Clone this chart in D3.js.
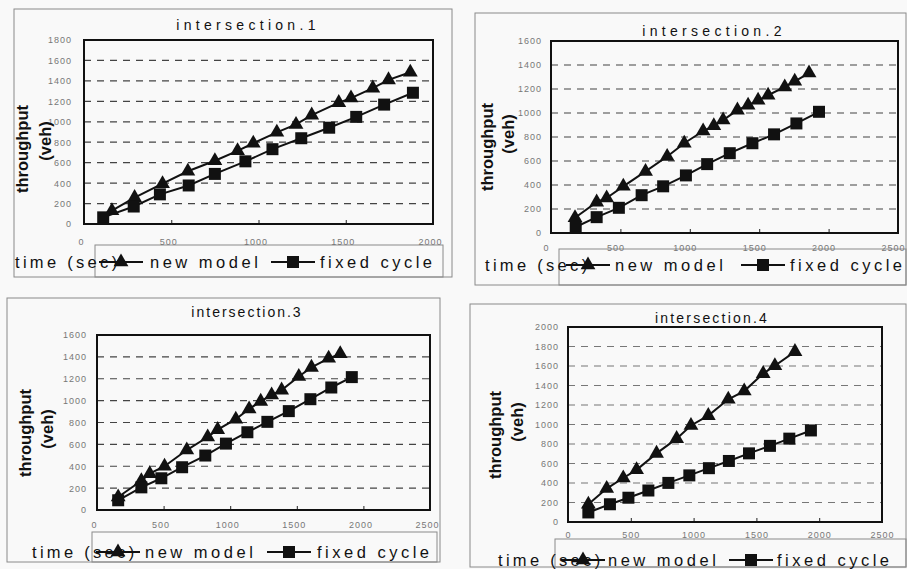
<!DOCTYPE html>
<html>
<head>
<meta charset="utf-8">
<script src="https://cdn.jsdelivr.net/npm/d3@7"></script>
<style>
  html, body { margin: 0; padding: 0; background: #f9f9f9; }
  svg { display: block; font-family: "Liberation Sans", Arial, sans-serif; }
</style>
</head>
<body>
<svg id="chart" width="907" height="569"></svg>
<script>
// Cumulative throughput (veh) against simulation time (sec) for four intersections.

// intersection.1
const int1NewTime   = [160, 290, 450, 595, 750, 880, 970, 1105, 1215, 1305, 1460, 1530, 1655, 1745, 1870];
const int1NewVeh    = [130, 258, 394, 516, 619, 716, 790, 897, 974, 1065, 1187, 1232, 1329, 1410, 1484];
const int1FixedTime = [110, 285, 435, 600, 750, 925, 1080, 1245, 1405, 1560, 1720, 1885];
const int1FixedVeh  = [65, 171, 290, 377, 490, 613, 732, 839, 942, 1048, 1168, 1284];

// intersection.2
const int2NewTime   = [173, 329, 401, 521, 681, 837, 960, 1096, 1173, 1240, 1343, 1420, 1492, 1564, 1684, 1756, 1859];
const int2NewVeh    = [127, 257, 292, 389, 513, 637, 748, 850, 894, 941, 1024, 1065, 1106, 1148, 1217, 1264, 1333];
const int2FixedTime = [178, 329, 489, 653, 808, 972, 1125, 1288, 1451, 1607, 1768, 1931];
const int2FixedVeh  = [50, 132, 210, 315, 389, 480, 574, 665, 748, 822, 913, 1010];

// intersection.3
const int3NewTime   = [159, 333, 396, 507, 674, 831, 906, 1042, 1142, 1229, 1311, 1386, 1515, 1610, 1739, 1826];
const int3NewVeh    = [119, 267, 332, 400, 548, 667, 735, 830, 924, 993, 1052, 1096, 1221, 1304, 1387, 1428];
const int3FixedTime = [159, 333, 483, 639, 813, 968, 1129, 1279, 1440, 1602, 1759, 1913];
const int3FixedVeh  = [89, 207, 290, 391, 498, 607, 711, 806, 904, 1013, 1120, 1215];

// intersection.4
const int4NewTime   = [162, 308, 440, 546, 705, 865, 979, 1117, 1276, 1403, 1554, 1647, 1807];
const int4NewVeh    = [182, 343, 451, 535, 704, 855, 990, 1091, 1259, 1343, 1522, 1603, 1747];
const int4FixedTime = [162, 334, 481, 640, 799, 966, 1122, 1281, 1441, 1608, 1762, 1934];
const int4FixedVeh  = [98, 182, 249, 323, 401, 478, 552, 626, 704, 781, 855, 939];

const titles      = ["intersection.1", "intersection.2", "intersection.3", "intersection.4"];
const seriesNames = ["new model", "fixed cycle"];
const xAxisMax    = [2000, 2500, 2500, 2500];
const yAxisMax    = [1800, 1600, 1600, 2000];
const xTickStep   = 500;
const yTickStep   = 200;
const xTitle      = "time (sec)";
const yTitle      = ["throughput", "(veh)"];

const panelData = [
  [[int1NewTime, int1NewVeh], [int1FixedTime, int1FixedVeh]],
  [[int2NewTime, int2NewVeh], [int2FixedTime, int2FixedVeh]],
  [[int3NewTime, int3NewVeh], [int3FixedTime, int3FixedVeh]],
  [[int4NewTime, int4NewVeh], [int4FixedTime, int4FixedVeh]]
];

// Page placement of each small chart
const layout = [
  { outer: [14, 9, 452, 277],   plot: [84, 40, 433, 224],   legendBox: [95, 245, 443, 277],
    title: [248, 25, 4.3],  yTitlePos: [22, 149, 45, 141],  yLabelGap: 12, xLabelDy: 18, xLabelShift: -3,
    timeAt: [15, 262], leg: { tri: 121, sq: 293, t1: 150, t2: 320, y: 262 } },
  { outer: [475, 13, 906, 285], plot: [551, 41, 898, 233],  legendBox: [559, 249, 906, 285],
    title: [714, 31, 4.3],  yTitlePos: [487, 147, 508, 134], yLabelGap: 9, xLabelDy: 15, xLabelShift: -5,
    timeAt: [485, 265], leg: { tri: 588, sq: 763, t1: 615, t2: 790, y: 265 } },
  { outer: [7, 298, 440, 562],  plot: [97, 335, 430, 510],  legendBox: [92, 532, 437, 562],
    title: [247, 312, 2.0], yTitlePos: [25, 433, 47, 429],   yLabelGap: 10, xLabelDy: 15, xLabelShift: -3,
    timeAt: [32, 552], leg: { tri: 118, sq: 289, t1: 145, t2: 317, y: 552 } },
  { outer: [470, 304, 906, 567], plot: [568, 327, 882, 522], legendBox: [555, 539, 906, 567],
    title: [712, 318, 2.2], yTitlePos: [495, 435, 517, 422], yLabelGap: 9, xLabelDy: 13, xLabelShift: 0,
    timeAt: [498, 560], leg: { tri: 583, sq: 751, t1: 608, t2: 777, y: 560 } }
];

const svg = d3.select("#chart");
const triangle = d3.symbol().type(d3.symbolTriangle).size(95);
const square   = d3.symbol().type(d3.symbolSquare).size(144);
const markers  = [triangle, square];
const tickFmt  = d3.format("d");

layout.forEach((L, i) => {
  const g = svg.append("g");
  const [px0, py1, px1, py0] = L.plot;

  const x = d3.scaleLinear().domain([0, xAxisMax[i]]).range([px0, px1]);
  const y = d3.scaleLinear().domain([0, yAxisMax[i]]).range([py0, py1]);

  // chart border
  g.append("rect")
    .attr("x", L.outer[0]).attr("y", L.outer[1])
    .attr("width", L.outer[2] - L.outer[0]).attr("height", L.outer[3] - L.outer[1])
    .attr("fill", "none").attr("stroke", "#8a8a8a").attr("stroke-width", 1);

  // legend box
  g.append("rect")
    .attr("x", L.legendBox[0]).attr("y", L.legendBox[1])
    .attr("width", L.legendBox[2] - L.legendBox[0]).attr("height", L.legendBox[3] - L.legendBox[1])
    .attr("fill", "none").attr("stroke", "#8a8a8a").attr("stroke-width", 1);

  // dashed gridlines
  const yTicks = d3.range(yTickStep, yAxisMax[i], yTickStep);
  g.append("g").selectAll("line").data(yTicks).join("line")
    .attr("x1", px0).attr("x2", px1)
    .attr("y1", d => y(d)).attr("y2", d => y(d))
    .attr("stroke", i === 3 ? "#777" : "#444").attr("stroke-width", 1.2)
    .attr("stroke-dasharray", "7,6");

  // y axis tick labels
  const yAxis = d3.axisLeft(y).tickValues(d3.range(0, yAxisMax[i] + 1, yTickStep))
    .tickFormat(tickFmt).tickSize(0).tickPadding(L.yLabelGap);
  const ya = g.append("g").attr("transform", `translate(${px0},0)`).call(yAxis);
  ya.select(".domain").remove();
  ya.selectAll("text").attr("font-size", 9).attr("fill", "#777")
    .attr("letter-spacing", 1).attr("font-family", "Liberation Sans, Arial, sans-serif");

  // x axis tick labels and small inward ticks
  const xTicks = d3.range(0, xAxisMax[i] + 1, xTickStep);
  const xAxis = d3.axisBottom(x).tickValues(xTicks).tickFormat(tickFmt)
    .tickSizeInner(-4).tickSizeOuter(0);
  const xa = g.append("g").attr("transform", `translate(0,${py0})`).call(xAxis);
  xa.select(".domain").remove();
  xa.selectAll(".tick line").attr("stroke", "#222").attr("stroke-width", 1);
  xa.selectAll("text").attr("font-size", 9).attr("fill", "#777")
    .attr("letter-spacing", 1).attr("font-family", "Liberation Sans, Arial, sans-serif")
    .attr("dy", "0.35em").attr("y", L.xLabelDy).attr("dx", L.xLabelShift);

  // series lines and markers
  panelData[i].forEach((s, k) => {
    const pts = s[0].map((t, j) => [t, s[1][j]]);
    g.append("path").datum(pts)
      .attr("fill", "none").attr("stroke", "#111").attr("stroke-width", 2)
      .attr("d", d3.line().x(d => x(d[0])).y(d => y(d[1])));
    g.append("g").selectAll("path").data(pts).join("path")
      .attr("transform", d => `translate(${x(d[0])},${y(d[1])})`)
      .attr("d", markers[k]).attr("fill", "#111");
  });

  // plot frame
  g.append("rect")
    .attr("x", px0).attr("y", py1).attr("width", px1 - px0).attr("height", py0 - py1)
    .attr("fill", "none").attr("stroke", "#111").attr("stroke-width", 2);

  // title
  g.append("text")
    .attr("x", L.title[0]).attr("y", L.title[1])
    .attr("text-anchor", "middle").attr("dominant-baseline", "central")
    .attr("font-size", 14).attr("letter-spacing", L.title[2]).attr("fill", "#111")
    .text(titles[i]);

  // y axis title (two rotated lines)
  [[L.yTitlePos[0], L.yTitlePos[1]], [L.yTitlePos[2], L.yTitlePos[3]]].forEach((p, k) => {
    g.append("text")
      .attr("transform", `translate(${p[0]},${p[1]}) rotate(-90)`)
      .attr("text-anchor", "middle").attr("dominant-baseline", "central")
      .attr("font-size", 16.5).attr("font-weight", "bold").attr("fill", "#111")
      .text(yTitle[k]);
  });

  // x axis title
  g.append("text")
    .attr("x", L.timeAt[0]).attr("y", L.timeAt[1])
    .attr("dominant-baseline", "central")
    .attr("font-size", 16.5).attr("letter-spacing", 3.3).attr("fill", "#111")
    .text(xTitle);

  // legend entries
  const leg = L.leg;
  [[leg.tri, leg.t1], [leg.sq, leg.t2]].forEach((e, k) => {
    g.append("line")
      .attr("x1", e[0] - 22).attr("x2", e[0] + 22)
      .attr("y1", leg.y).attr("y2", leg.y)
      .attr("stroke", "#111").attr("stroke-width", 2);
    g.append("path")
      .attr("transform", `translate(${e[0]},${leg.y})`)
      .attr("d", markers[k]).attr("fill", "#111");
    g.append("text")
      .attr("x", e[1]).attr("y", leg.y)
      .attr("dominant-baseline", "central")
      .attr("font-size", 16.5).attr("letter-spacing", 3.5).attr("fill", "#111")
      .text(seriesNames[k]);
  });
});
</script>
</body>
</html>
